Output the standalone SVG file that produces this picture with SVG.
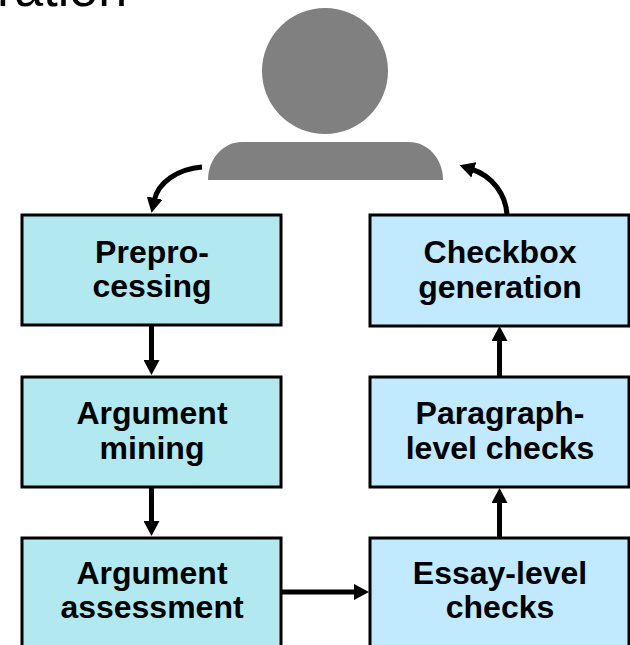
<svg xmlns="http://www.w3.org/2000/svg" width="630" height="645" viewBox="0 0 630 645">
<style>
text{font-family:"Liberation Sans",Arial,sans-serif}
.l{font-size:32px;font-weight:bold;fill:#000;text-anchor:middle}
.a{fill:#b2e9f1;stroke:#000;stroke-width:3}
.b{fill:#c1e9ff;stroke:#000;stroke-width:3}
.c{fill:none;stroke:#000;stroke-width:5}
.p{fill:#808080}
</style>
<defs>
<marker id="h" markerUnits="userSpaceOnUse" markerWidth="16" markerHeight="16" refX="3" refY="8" orient="auto"><path d="M0 0L15 8L0 16z" fill="#000"/></marker>
</defs>
<text x="-3" y="5.500" font-size="52" fill="#000">ration</text>
<g id="user">
<circle class="p" cx="325" cy="71" r="63"/>
<path class="p" d="M208 180C208 158 224 142 242 142H409C427 142 443 158 443 180z"/>
</g>
<g id="connectors">
<path class="c" marker-end="url(#h)" d="M202 167C178 169 158 182 154 201"/>
<path class="c" d="M151.500 325V363" marker-end="url(#h)"/>
<path class="c" d="M151.500 487V524" marker-end="url(#h)"/>
<path class="c" d="M282 592H357" marker-end="url(#h)"/>
<path class="c" d="M499.500 537V500" marker-end="url(#h)"/>
<path class="c" d="M499.500 376V338" marker-end="url(#h)"/>
<path class="c" d="M507 215C506 195 493 176 471 169" marker-end="url(#h)"/>
</g>
<g id="preprocessing"><rect class="a" x="22" y="215" width="259" height="110"/><text class="l" x="152" y="263">Prepro-</text><text class="l" x="152" y="297">cessing</text></g>
<g id="argument-mining"><rect class="a" x="22" y="377" width="259" height="110"/><text class="l" x="152" y="424">Argument</text><text class="l" x="152" y="459">mining</text></g>
<g id="argument-assessment"><rect class="a" x="22" y="538" width="259" height="112"/><text class="l" x="152" y="584">Argument</text><text class="l" x="152" y="618">assessment</text></g>
<g id="checkbox-generation"><rect class="b" x="370" y="215" width="259" height="111"/><text class="l" x="500" y="263">Checkbox</text><text class="l" x="500" y="298">generation</text></g>
<g id="paragraph-checks"><rect class="b" x="370" y="377" width="259" height="110"/><text class="l" x="500" y="424">Paragraph-</text><text class="l" x="500" y="459">level checks</text></g>
<g id="essay-checks"><rect class="b" x="370" y="538" width="259" height="112"/><text class="l" x="500" y="584">Essay-level</text><text class="l" x="500" y="618">checks</text></g>
</svg>
